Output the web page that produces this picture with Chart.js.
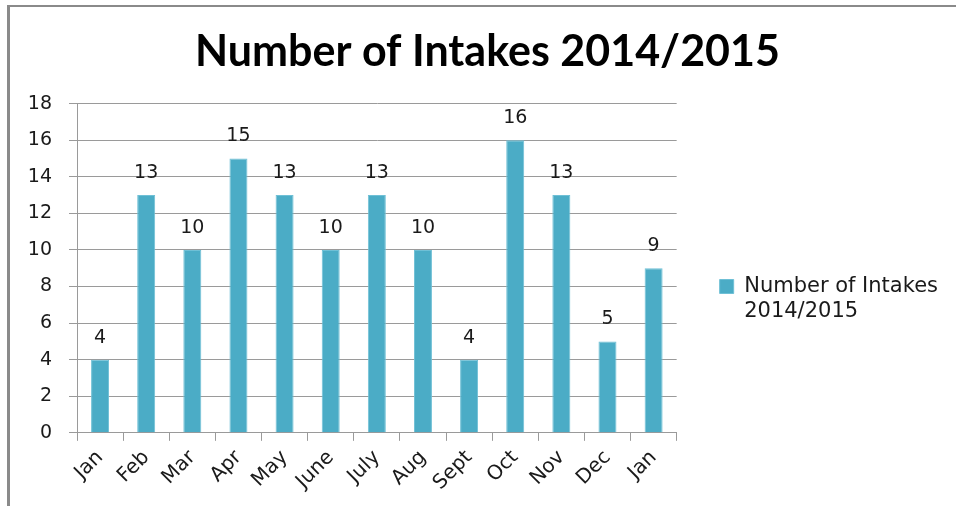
<!DOCTYPE html>
<html>
<head>
<meta charset="utf-8">
<script src="https://cdn.jsdelivr.net/npm/chart.js@4"></script>
<style>
  html, body { margin: 0; padding: 0; background: #fff; }
  #wrap { position: relative; width: 956px; height: 506px; overflow: hidden; }
  #frame {
    position: absolute; left: 7px; top: 5px; width: 1000px; height: 600px;
    border-left: 3px solid #8a8a8a; border-top: 2px solid #8a8a8a;
  }
  #chart { position: absolute; left: 0; top: 0; }
</style>
</head>
<body>
<div id="wrap">
  <div id="frame"></div>
  <canvas id="chart" width="956" height="506"></canvas>
</div>
<script>
"use strict"

const months = ["Jan", "Feb", "Mar", "Apr", "May", "June", "July", "Aug", "Sept", "Oct", "Nov", "Dec", "Jan"];
const intakes = [4, 13, 10, 15, 13, 10, 13, 10, 4, 16, 13, 5, 9];
const seriesName = ["Number of Intakes", "2014/2015"];
const chartTitle = "Number of Intakes 2014/2015";
const yTicks = [0, 2, 4, 6, 8, 10, 12, 14, 16, 18];

const tickFont = { family: "DejaVu Sans", size: 19 };

// write the value above each bar
const valueLabels = {
    id: "valueLabels",
    afterDatasetsDraw(chart) {
        let ctx = chart.ctx;
        let meta = chart.getDatasetMeta(0);
        ctx.save();
        ctx.font = "19px 'DejaVu Sans'";
        ctx.fillStyle = "#1a1a1a";
        ctx.textAlign = "center";
        ctx.textBaseline = "alphabetic";
        meta.data.forEach((bar, i) => {
            ctx.fillText(String(intakes[i]), bar.x, bar.y - 17);
        });
        ctx.restore();
    }
};

var ctx = document.getElementById("chart");

let myChart = new Chart(ctx, {
    type: 'bar',
    data: {
        labels: months,
        datasets: [{
            label: seriesName,
            data: intakes,
            backgroundColor: '#4bacc6',
            borderColor: '#6fc0d6',
            borderWidth: 1,
            categoryPercentage: 1,
            barPercentage: 0.39
        }]
    },
    options: {
        responsive: false,
        animation: false,
        layout: {
            padding: { left: 27, right: 8, top: 8, bottom: 6 }
        },
        plugins: {
            title: {
                display: true,
                text: chartTitle,
                color: '#000',
                font: { family: "Lato", size: 43, weight: 'bold' },
                padding: { top: 18, bottom: 26 }
            },
            legend: {
                position: 'right',
                maxWidth: 300,
                labels: {
                    color: '#1a1a1a',
                    font: { family: "DejaVu Sans", size: 21 },
                    boxWidth: 14,
                    boxHeight: 14,
                    padding: 43
                },
                // empty title only pushes the entry down
                title: {
                    display: true,
                    text: ' ',
                    font: { size: 12 },
                    padding: { top: 0, bottom: 80 }
                }
            },
            tooltip: { enabled: false }
        },
        scales: {
            x: {
                afterFit: (scale) => {
                    // let the first slanted label hang into the y label gap
                    scale.paddingLeft = 0;
                },
                grid: {
                    display: true,
                    drawOnChartArea: false,
                    drawTicks: true,
                    tickLength: 8,
                    color: '#9a9a9a'
                },
                border: { color: '#9a9a9a' },
                ticks: {
                    color: '#1a1a1a',
                    font: { family: "DejaVu Sans", size: 20 },
                    padding: 5,
                    autoSkip: false,
                    minRotation: 45,
                    maxRotation: 45
                }
            },
            y: {
                min: 0,
                max: 18,
                afterBuildTicks: (axis) => {
                    axis.ticks = yTicks.map(v => ({ value: v }));
                },
                afterFit: (scale) => {
                    scale.width = 50;
                },
                grid: {
                    color: '#9a9a9a',
                    tickLength: 8
                },
                border: { color: '#9a9a9a' },
                ticks: {
                    color: '#1a1a1a',
                    font: tickFont,
                    padding: 17
                }
            }
        }
    },
    plugins: [valueLabels]
});
</script>
</body>
</html>
